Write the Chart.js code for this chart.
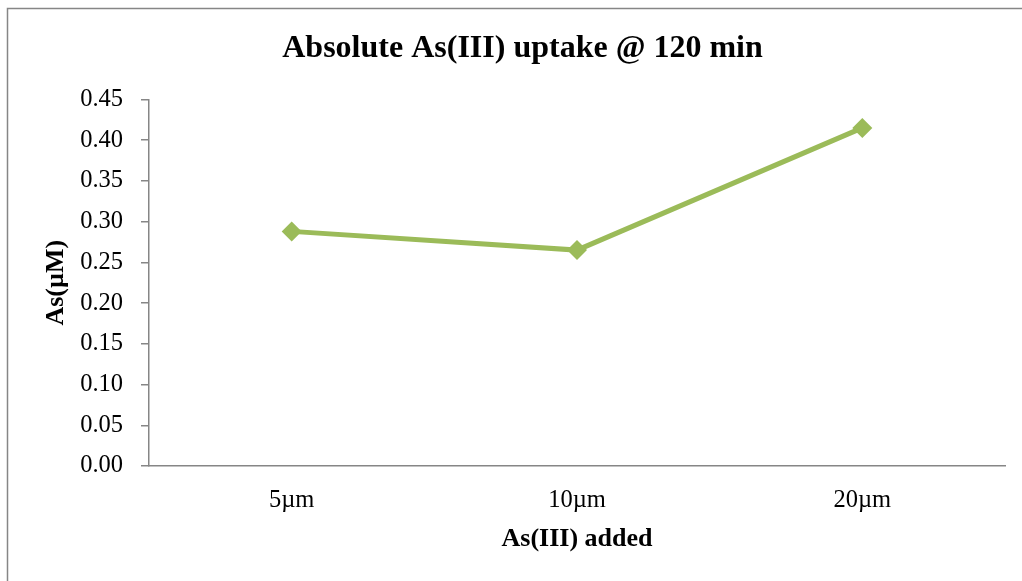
<!DOCTYPE html>
<html>
<head>
<meta charset="utf-8">
<title>Absolute As(III) uptake @ 120 min</title>
<script src="https://cdn.jsdelivr.net/npm/chart.js@4/dist/chart.umd.min.js"></script>
<style>
  html, body { margin: 0; padding: 0; background: #ffffff; }
  #wrap { position: relative; width: 1022px; height: 581px; }
</style>
</head>
<body>
<div id="wrap"><canvas id="chart"></canvas></div>
<script>
// Data
const categories = ['5µm', '10µm', '20µm'];
const uptake = [0.288, 0.265, 0.415];
const yTickMin = 0;
const yTickMax = 0.45;
const yTickStep = 0.05;

const SERIF = '"Liberation Serif", "Times New Roman", Times, serif';
const AXIS_GREY = '#868686';
const GREEN = '#9BBB59';

// Thin grey frame around the whole chart
const framePlugin = {
  id: 'frame',
  beforeDraw(chart) {
    const ctx = chart.ctx;
    ctx.save();
    ctx.fillStyle = '#ffffff';
    ctx.fillRect(0, 0, chart.width, chart.height);
    ctx.strokeStyle = AXIS_GREY;
    ctx.lineWidth = 1.5;
    ctx.strokeRect(7.5, 8.5, chart.width + 20, chart.height + 20);
    ctx.restore();
  }
};

new Chart(document.getElementById('chart'), {
  type: 'line',
  data: {
    labels: categories,
    datasets: [{
      label: 'As(µM)',
      data: uptake,
      borderColor: GREEN,
      backgroundColor: GREEN,
      borderWidth: 5,
      pointStyle: 'rectRot',
      pointRadius: 10,
      pointHoverRadius: 10,
      pointBackgroundColor: GREEN,
      pointBorderColor: GREEN,
      pointBorderWidth: 0,
      tension: 0,
      fill: false
    }]
  },
  options: {
    responsive: true,
    maintainAspectRatio: false,
    animation: false,
    events: [],
    layout: { padding: { left: 40, right: 17, top: 10, bottom: 15 } },
    plugins: {
      legend: { display: false },
      tooltip: { enabled: false },
      title: {
        display: true,
        text: 'Absolute As(III) uptake @ 120 min',
        color: '#000000',
        font: { family: SERIF, size: 32, weight: 'bold', lineHeight: 1.2 },
        padding: { top: 20, bottom: 31 }
      }
    },
    scales: {
      x: {
        type: 'category',
        offset: true,
        grid: { display: false },
        border: { display: true, color: AXIS_GREY, width: 1.5 },
        ticks: {
          color: '#000000',
          font: { family: SERIF, size: 24.5 },
          padding: 12,
          maxRotation: 0
        },
        title: {
          display: true,
          text: 'As(III) added',
          color: '#000000',
          font: { family: SERIF, size: 26, weight: 'bold', lineHeight: 1.2 },
          padding: { top: 0, bottom: 11 }
        },
        afterFit(scale) { scale.height = 100; }
      },
      y: {
        min: yTickMin,
        max: yTickMax,
        grid: {
          display: true,
          drawOnChartArea: false,
          drawTicks: true,
          tickLength: 8,
          color: AXIS_GREY,
          lineWidth: 1.5
        },
        border: { display: true, color: AXIS_GREY, width: 1.5 },
        ticks: {
          stepSize: yTickStep,
          color: '#000000',
          font: { family: SERIF, size: 24.5 },
          padding: 18,
          callback: (v) => Number(v).toFixed(2)
        },
        title: {
          display: true,
          text: 'As(µM)',
          color: '#000000',
          font: { family: SERIF, size: 26, weight: 'bold', lineHeight: 1.2 },
          padding: { top: 1, bottom: 0 }
        },
        afterFit(scale) { scale.width = 109; }
      }
    }
  },
  plugins: [framePlugin]
});
</script>
</body>
</html>
